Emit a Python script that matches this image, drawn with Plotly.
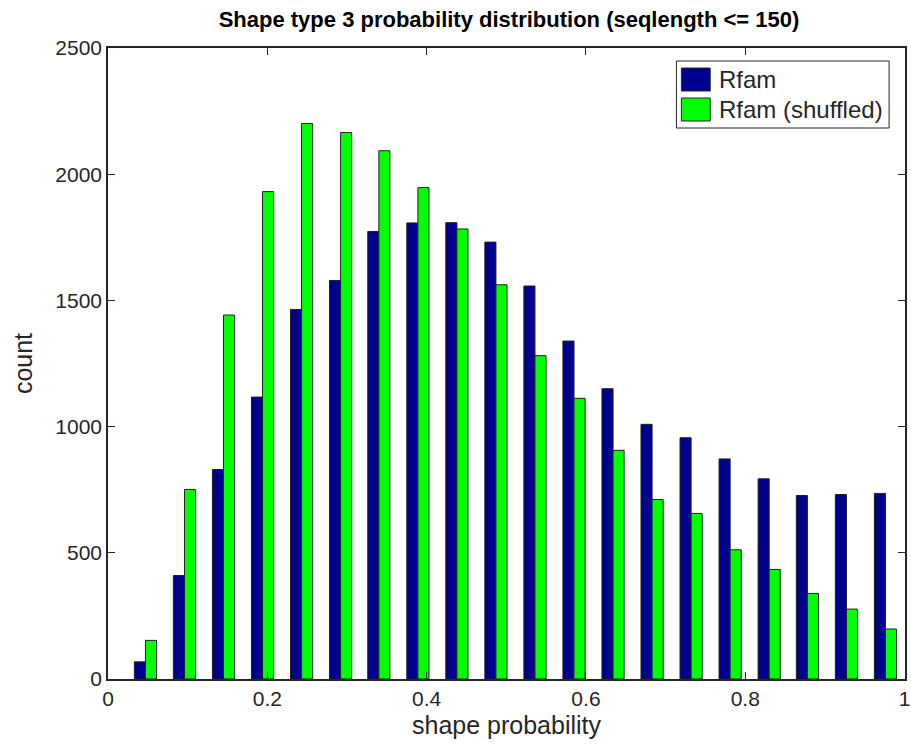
import plotly.graph_objects as go

bin_centers = [0.047, 0.096, 0.145, 0.194, 0.243, 0.292, 0.340, 0.389, 0.438, 0.487,
               0.536, 0.585, 0.634, 0.683, 0.732, 0.781, 0.830, 0.878, 0.927, 0.976]
rfam = [68, 410, 830, 1117, 1464, 1579, 1773, 1807, 1808, 1731,
        1557, 1339, 1150, 1009, 956, 872, 793, 727, 731, 735]
rfam_shuffled = [153, 751, 1442, 1931, 2201, 2165, 2093, 1947, 1783, 1562,
                 1281, 1112, 906, 711, 656, 512, 434, 339, 277, 198]
series_names = ["Rfam", "Rfam (shuffled)"]
series_colors = ["#00008F", "#00FF00"]

x_ticks = [0, 0.2, 0.4, 0.6, 0.8, 1]
x_tick_labels = ["0", "0.2", "0.4", "0.6", "0.8", "1"]
y_ticks = [0, 500, 1000, 1500, 2000, 2500]

FONT = "Liberation Sans, Arial, sans-serif"
TXT = "#262626"

fig = go.Figure()
for name, vals, col in zip(series_names, [rfam, rfam_shuffled], series_colors):
    fig.add_trace(go.Bar(x=bin_centers, y=vals, name=name, showlegend=False,
                         marker=dict(color=col, line=dict(color="#202020", width=1))))

# plot area in pixels: x 108..910, y 48..679
W, H = 911, 744
L, R, T, B = 108, 1, 48, 65
pw, ph = W - L - R, H - T - B


def px(x):
    return (x - L) / pw


def py(y):
    return (H - B - y) / ph


shapes = [dict(type="rect", xref="paper", yref="paper",
               x0=px(680), x1=px(894), y0=py(128), y1=py(61),
               line=dict(color=TXT, width=1), fillcolor="white", layer="above")]
annotations = []
rows = [(68, 91), (98, 121)]
for (y0, y1), name, col in zip(rows, series_names, series_colors):
    shapes.append(dict(type="rect", xref="paper", yref="paper",
                       x0=px(685), x1=px(714), y0=py(y1), y1=py(y0),
                       line=dict(color=TXT, width=1), fillcolor=col, layer="above"))
    annotations.append(dict(xref="paper", yref="paper", x=px(721), y=py((y0 + y1) / 2),
                            xanchor="left", yanchor="middle", showarrow=False,
                            text=name, font=dict(family=FONT, size=24, color=TXT)))

fig.update_layout(
    width=W, height=H,
    margin=dict(l=L, r=R, t=T, b=B),
    paper_bgcolor="white", plot_bgcolor="white",
    barmode="group", bargap=0.42, bargroupgap=0,
    font=dict(family=FONT, size=21, color=TXT),
    title=dict(text="<b>Shape type 3 probability distribution (seqlength <= 150)</b>",
               x=509 / W, xanchor="center", y=1 - 19 / H, yanchor="middle",
               font=dict(family=FONT, size=22, color="black")),
    showlegend=False,
    shapes=shapes,
    annotations=annotations,
)

fig.update_xaxes(range=[0, 1.0005], tickvals=x_ticks, ticktext=x_tick_labels,
                 showline=True, linecolor=TXT, linewidth=1.5, mirror="ticks",
                 ticks="inside", ticklen=7, tickcolor=TXT, showgrid=False, zeroline=False,
                 title=dict(text="shape probability", standoff=8),
                 tickfont=dict(size=21), ticklabeloverflow="allow")
fig.update_yaxes(range=[0, 2500], tickvals=y_ticks,
                 showline=True, linecolor=TXT, linewidth=1.5, mirror="ticks",
                 ticks="inside", ticklen=7, tickcolor=TXT, showgrid=False, zeroline=False,
                 title=dict(text="count", standoff=16),
                 tickfont=dict(size=21))

fig.write_html("out.html")
